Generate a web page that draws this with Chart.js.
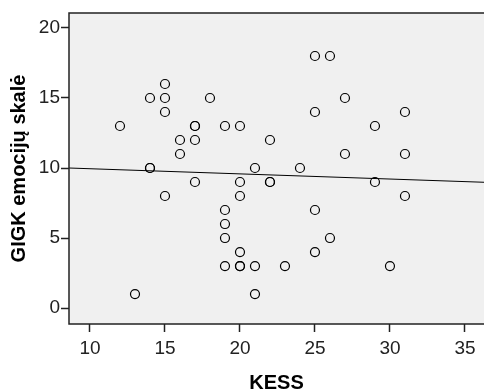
<!DOCTYPE html>
<html lang="lt">
<head>
<meta charset="UTF-8">
<title>KESS ir GIGK</title>
<script src="https://cdn.jsdelivr.net/npm/chart.js"></script>
<style>
  html, body { margin: 0; padding: 0; background: #fff; }
  #wrap { width: 484px; height: 391px; }
</style>
</head>
<body>
<div id="wrap"><canvas id="grafikas"></canvas></div>
<script>
// duomenys (KESS, GIGK)
const kess = [12, 13, 14, 14, 14, 15, 15, 15, 15, 16, 16, 17, 17, 17, 17, 18, 19, 19, 19, 19, 19,
              20, 20, 20, 20, 20, 20, 21, 21, 21, 22, 22, 22, 23, 24, 25, 25, 25, 25, 26, 26,
              27, 27, 29, 29, 30, 31, 31, 31];
const gigk = [13, 1, 15, 10, 10, 16, 15, 14, 8, 12, 11, 13, 13, 12, 9, 15, 13, 7, 6, 5, 3,
              13, 9, 8, 4, 3, 3, 10, 3, 1, 12, 9, 9, 3, 10, 18, 14, 7, 4, 18, 5,
              15, 11, 13, 9, 3, 14, 11, 8];

// tiesinė regresija (galai ties ašies ribomis)
const linijaX = [8.6, 36.3];
const linijaY = [10.0, 8.98];

const xTicks = [10, 15, 20, 25, 30, 35];
const yTicks = [0, 5, 10, 15, 20];

const taskai = kess.map((v, i) => ({ x: v, y: gigk[i] }));
const linija = linijaX.map((v, i) => ({ x: v, y: linijaY[i] }));

const fonas = {
    id: 'fonas',
    beforeDraw(chart) {
        const a = chart.chartArea, c = chart.ctx;
        c.save();
        c.fillStyle = '#f0f0f0';
        c.fillRect(a.left, a.top, a.right - a.left, a.bottom - a.top);
        c.restore();
    },
    afterDatasetsDraw(chart) {
        const a = chart.chartArea, c = chart.ctx;
        c.save();
        c.strokeStyle = '#222';
        c.lineWidth = 1.5;
        c.beginPath();
        c.moveTo(a.right + 1, a.top);
        c.lineTo(a.left, a.top);
        c.lineTo(a.left, a.bottom);
        c.lineTo(a.right + 1, a.bottom);
        c.stroke();
        c.restore();
    }
};

const ctx = document.getElementById('grafikas').getContext('2d');
const grafikas = new Chart(ctx, {
    type: 'scatter',
    data: {
        datasets: [{
            data: taskai,
            pointRadius: 4.5,
            pointHoverRadius: 4.5,
            pointBorderWidth: 1.2,
            pointBackgroundColor: 'rgba(0,0,0,0)',
            pointBorderColor: '#000'
        }, {
            type: 'line',
            data: linija,
            borderColor: '#000',
            borderWidth: 1,
            pointRadius: 0,
            fill: false
        }]
    },
    options: {
        responsive: true,
        maintainAspectRatio: false,
        animation: false,
        layout: { autoPadding: false, padding: { top: 13, right: 0, left: 0, bottom: 0 } },
        plugins: { legend: { display: false }, tooltip: { enabled: false } },
        scales: {
            x: {
                type: 'linear',
                min: 8.6,
                max: 36.27,
                afterBuildTicks: s => { s.ticks = xTicks.map(v => ({ value: v })); },
                afterFit: s => { s.height = 67; s.paddingLeft = 0; s.paddingRight = 0; },
                grid: { drawOnChartArea: false, tickLength: 8, tickColor: '#222', tickWidth: 1.5 },
                border: { display: false },
                ticks: { color: '#222', font: { family: 'Liberation Sans', size: 19 }, padding: 5, maxRotation: 0 },
                title: { display: true, text: 'KESS', color: '#000',
                         font: { family: 'Liberation Sans', size: 20, weight: 'bold', lineHeight: 0.8 }, padding: 0 }
            },
            y: {
                min: -1.14,
                max: 21.07,
                afterBuildTicks: s => { s.ticks = yTicks.map(v => ({ value: v })); },
                afterFit: s => { s.width = 69; s.paddingTop = 0; s.paddingBottom = 0; },
                grid: { drawOnChartArea: false, tickLength: 8, tickColor: '#222', tickWidth: 1.5 },
                border: { display: false },
                ticks: { color: '#222', font: { family: 'Liberation Sans', size: 19 }, padding: 1 },
                title: { display: true, text: 'GIGK emocijų skalė', color: '#000',
                         font: { family: 'Liberation Sans', size: 20, weight: 'bold', lineHeight: 1 }, padding: { top: 9 } }
            }
        }
    },
    plugins: [fonas]
});
</script>
</body>
</html>
